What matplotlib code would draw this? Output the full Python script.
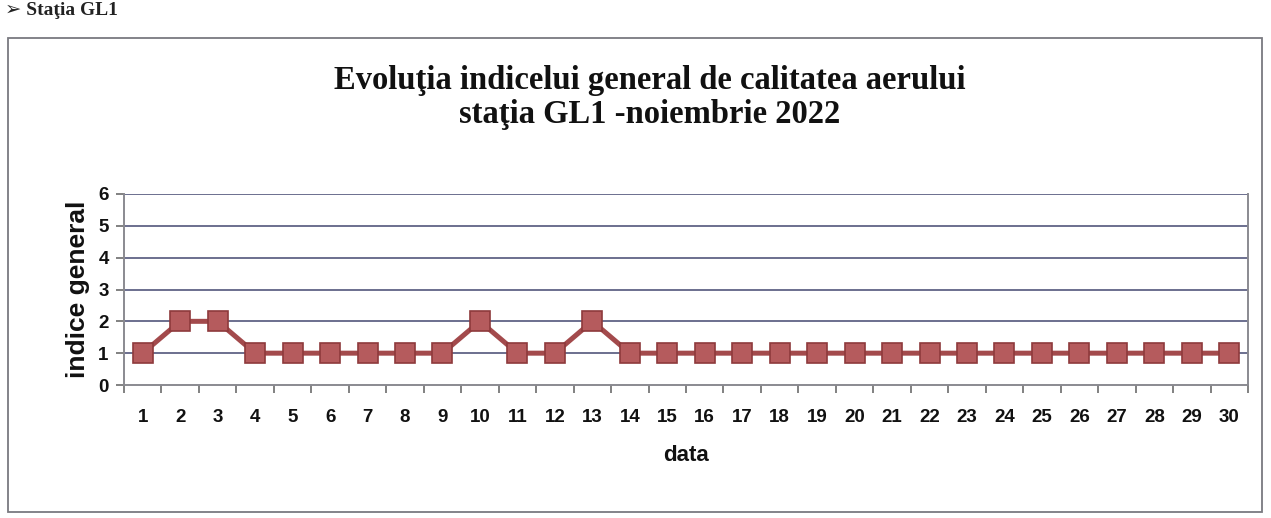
#!/usr/bin/env python3
import matplotlib
matplotlib.use("Agg")
import matplotlib.pyplot as plt
from matplotlib.patches import Rectangle

# data
days = list(range(1, 31))
index_values = [1, 2, 2, 1, 1, 1, 1, 1, 1, 2,
                1, 1, 2, 1, 1, 1, 1, 1, 1, 1,
                1, 1, 1, 1, 1, 1, 1, 1, 1, 1]
y_ticks = [0, 1, 2, 3, 4, 5, 6]

title_lines = ["Evoluţia indicelui general de calitatea aerului",
               "staţia GL1 -noiembrie 2022"]
x_label = "data"
y_label = "indice general"

W, H = 1271, 518
fig = plt.figure(figsize=(W / 100, H / 100), dpi=100)
fig.patch.set_facecolor("white")

# heading from the scanned page (cut off in the scan)
fig.text(5 / W, 1 - 2 / H, "➢ Staţia GL1", family=["Liberation Serif", "DejaVu Sans"],
         fontweight="bold", fontsize=14, va="top", ha="left", color="#222222")

# outer chart frame
fig.patches.append(Rectangle((8 / W, 1 - 512 / H), (1262 - 8) / W, (512 - 38) / H,
                             transform=fig.transFigure, fill=False,
                             edgecolor="#7a7a80", linewidth=1.3))

ax_l, ax_r, ax_t, ax_b = 124, 1248, 194, 385
ax = fig.add_axes([ax_l / W, 1 - ax_b / H, (ax_r - ax_l) / W, (ax_b - ax_t) / H])

grid_c = "#6b6f8e"
for v in y_ticks[1:]:
    ax.axhline(v, color=grid_c, linewidth=1.4, zorder=1)

ax.plot(days, index_values, color="#a34a4c", linewidth=3.6, marker="s",
        markersize=14, markerfacecolor="#b55b5d", markeredgecolor="#8e3a3c",
        markeredgewidth=1.2, zorder=3, clip_on=False)

ax.set_xlim(0.5, 30.5)
ax.set_ylim(0, 6)
ax.set_yticks(y_ticks)
ax.set_xticks(days)
ax.set_xticks([d + 0.5 for d in range(0, 31)], minor=True)
ax.tick_params(axis="x", which="major", length=0, pad=17)
ax.tick_params(axis="x", which="minor", length=6, width=1.3, color="#777777", direction="out")
ax.tick_params(axis="y", length=6, width=1.3, color="#777777", pad=5)
for lab in ax.get_xticklabels() + ax.get_yticklabels():
    lab.set_fontfamily("Liberation Sans")
    lab.set_fontweight("bold")
    lab.set_fontsize(13.5)
    lab.set_color("#111111")

for side in ["left", "bottom", "right"]:
    ax.spines[side].set_color("#8a8a90")
    ax.spines[side].set_linewidth(1.4)
ax.spines["top"].set_visible(False)

ax.set_xlabel(x_label, fontfamily="Liberation Sans", fontweight="bold",
              fontsize=16, labelpad=14, color="#111111")
ax.set_ylabel(y_label, fontfamily="Liberation Sans", fontweight="bold",
              fontsize=19, labelpad=6, color="#111111")

fig.text(650 / W, 1 - 80 / H, title_lines[0], family="Liberation Serif",
         fontweight="bold", fontsize=23.5, ha="center", va="center", color="#111111")
fig.text(650 / W, 1 - 114 / H, title_lines[1], family="Liberation Serif",
         fontweight="bold", fontsize=23.5, ha="center", va="center", color="#111111")

fig.savefig("out.png", dpi=100)
